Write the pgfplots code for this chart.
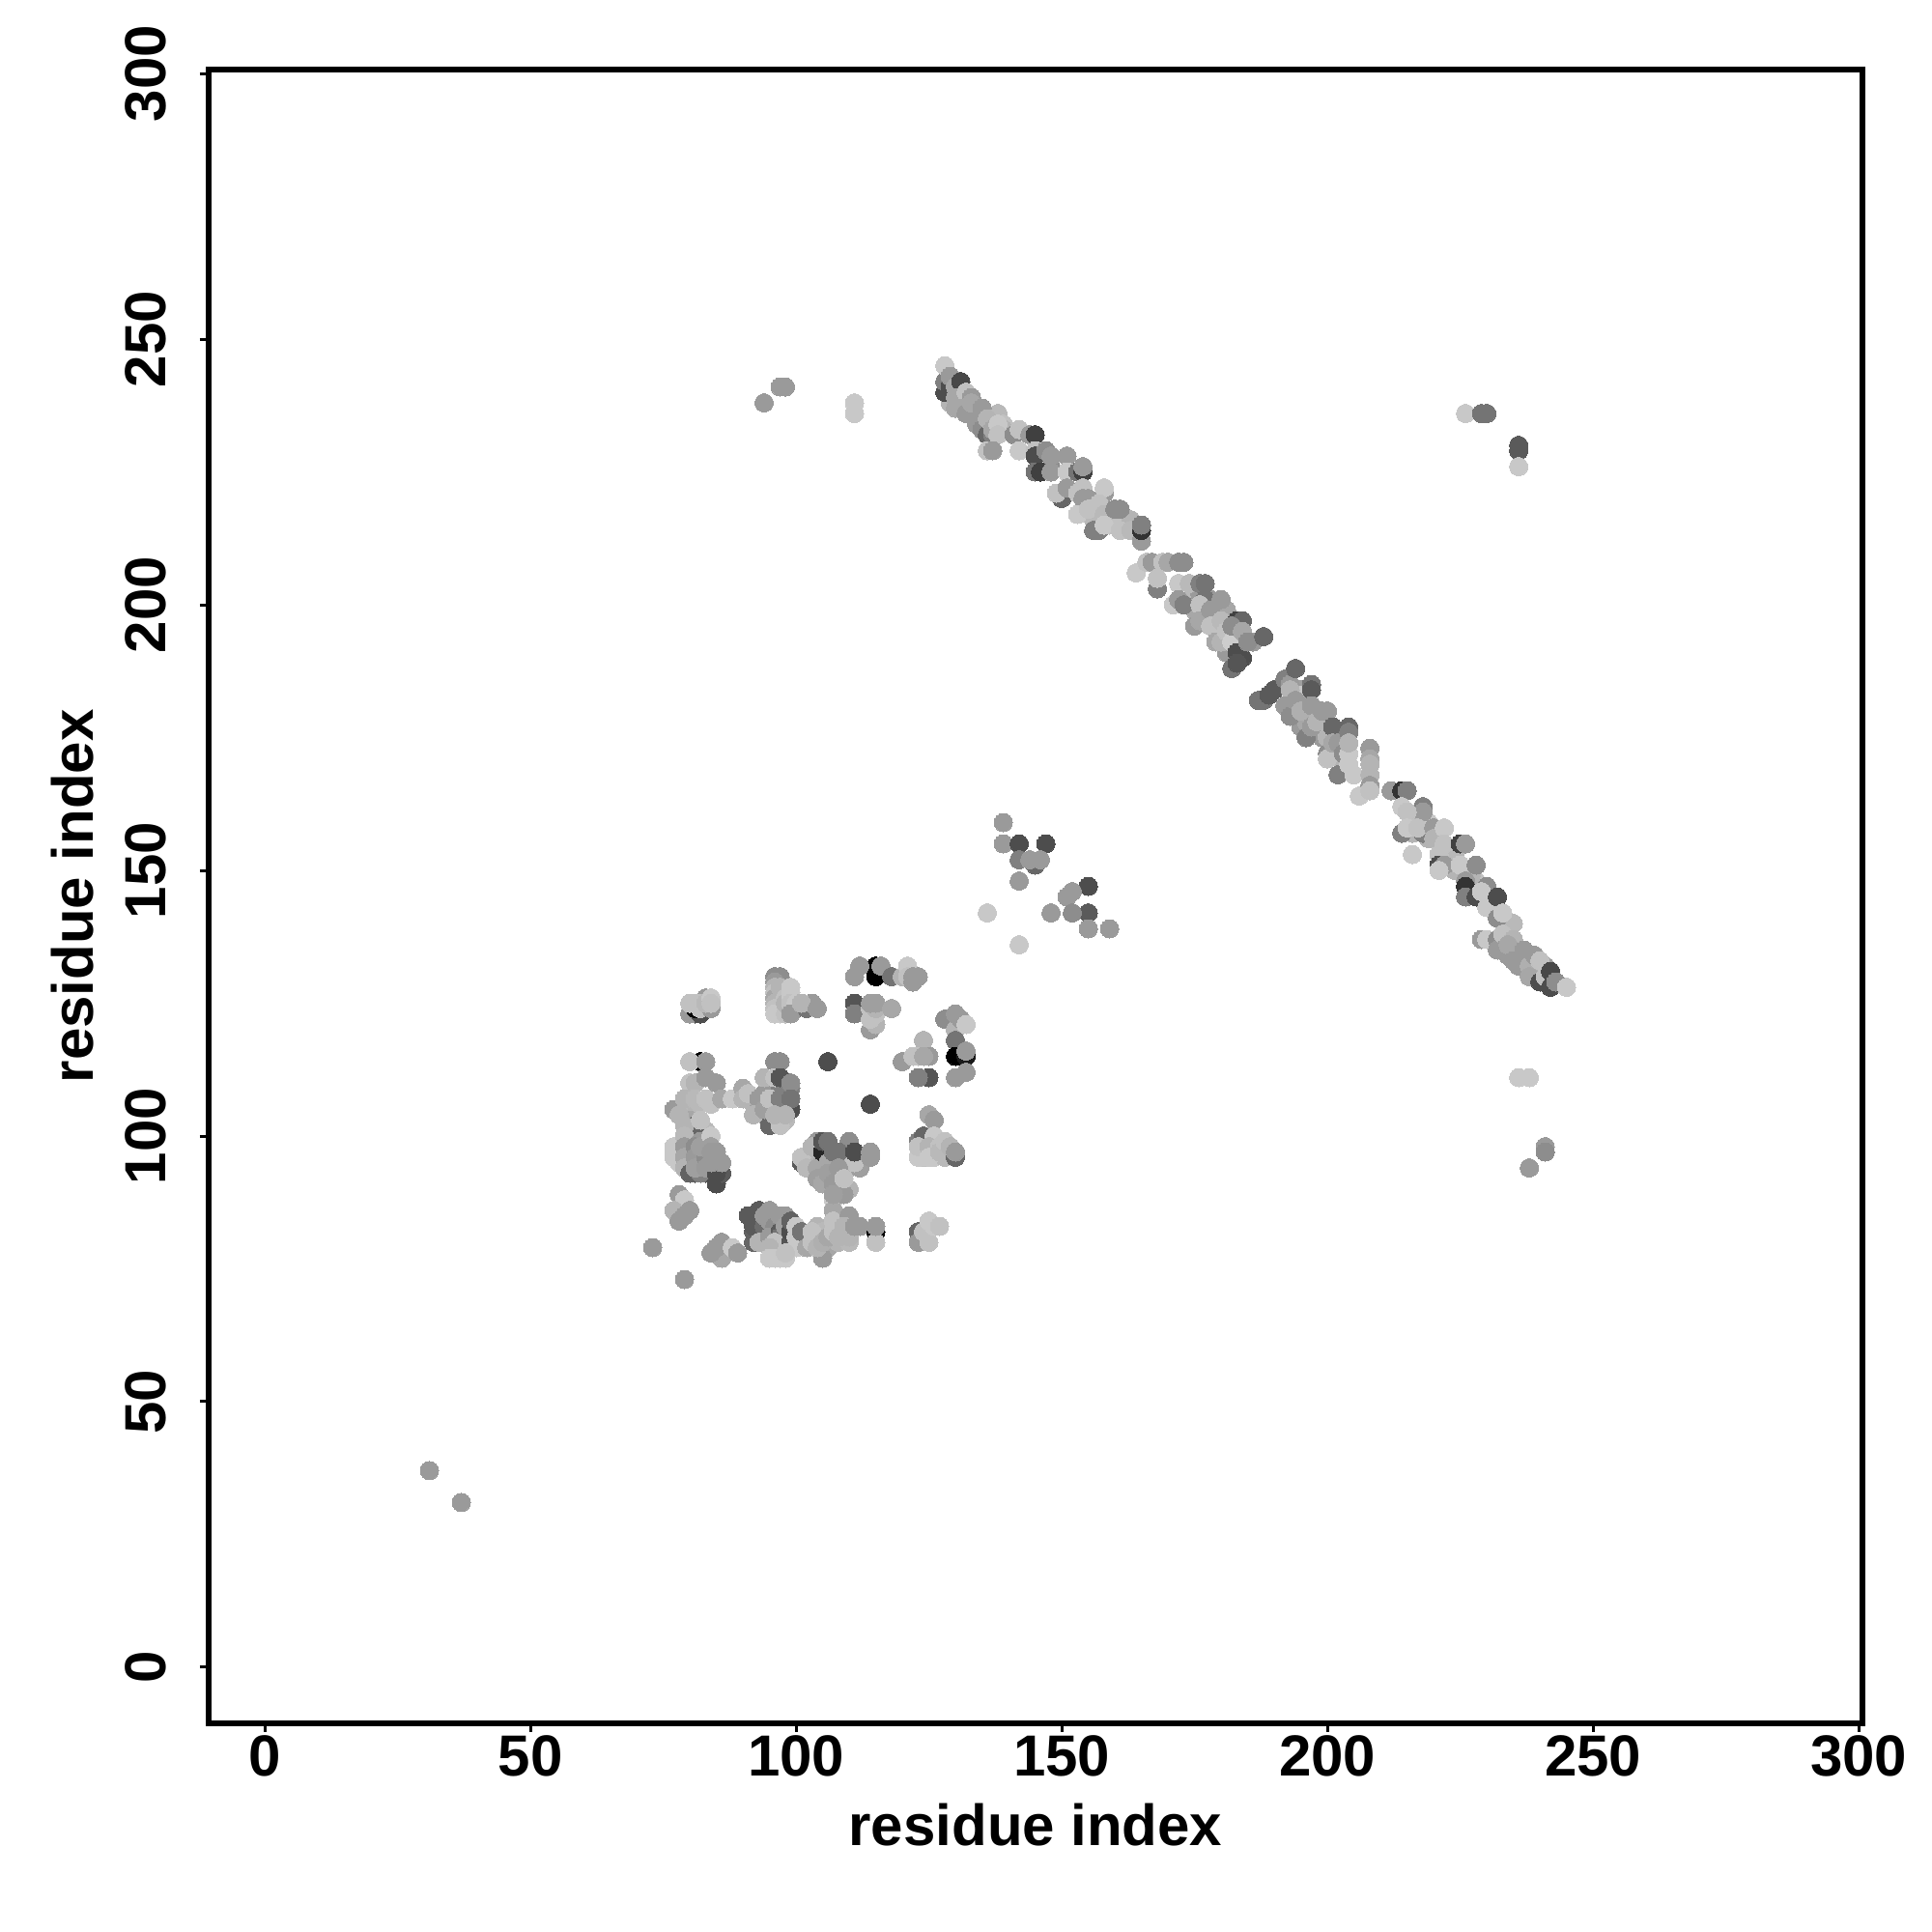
\documentclass[border=0pt]{standalone}
\usepackage{pgfplots}
\usepackage{fontspec}
\setmainfont{Liberation Sans}
\pgfplotsset{compat=1.18}
\begin{document}
\begin{tikzpicture}[x=1mm,y=1mm]
\path[use as bounding box] (0,0) rectangle (200,200);
\begin{axis}[
  at={(21.6mm,21.6mm)},anchor=south west,
  scale only axis,width=171.2mm,height=171.23mm,
  xmin=-10.55,xmax=300.7,ymin=-10.55,ymax=300.8,
  xtick={0,50,...,300},ytick={0,50,...,300},
  tick pos=left,tick align=outside,
  major tick length=0.9mm,
  every tick/.style={black,line width=0.3mm},
  axis line style={line width=0.6mm,black},
  /pgf/number format/assume math mode=true,
  tick label style={font=\fontsize{17.07pt}{20pt}\selectfont\bfseries,inner sep=0pt},
  xticklabel style={anchor=north,yshift=-0.3mm},
  yticklabel style={rotate=90,anchor=south,yshift=3.4mm},
  xlabel={residue index},ylabel={residue index},
  label style={font=\fontsize{17.07pt}{20pt}\selectfont\bfseries,inner sep=0pt},
  xlabel style={at={(axis description cs:0.5,0)},anchor=base,yshift=-12.7mm},
  ylabel style={at={(axis description cs:0,0.5)},anchor=base,rotate=0,yshift=11.9mm},
  colormap={gr}{gray(0cm)=(0); gray(1cm)=(1)},
  point meta min=0,point meta max=1,
  clip=false,
]
\addplot[scatter,only marks,mark=*,mark size=0.95mm,
  mark options={line width=0pt},
  scatter/use mapped color={draw=mapped color,fill=mapped color},
  point meta=explicit]
 table[x=x,y=y,meta=g,row sep=\\]{
x y g\\
92 106 .7\\ 93 105 .62\\ 94 104 .6\\ 94 106 .7\\ 95 105 .7\\ 95 103 .75\\ 96 103 .72\\ 97 105 .6\\ 98 106 .45\\ 98 103 .72\\ 96 108 .7\\ 94 108 .6\\ 97 109 .5\\ 99 109 .5\\ 98 108 .5\\
80 105 .72\\ 81 104 .7\\ 80 103 .65\\ 83 101 .72\\ 82 106 .72\\ 84 106 .75\\ 
103 96 .7\\ 104 97 .7\\ 105 95 .65\\ 104 99 .6\\ 107 93 .62\\ 109 95 .72\\ 110 94 .7\\ 108 92 .65\\ 109 90 .62\\ 110 90 .7\\
124 98 .75\\ 124 96 .75\\ 126 97 .75\\ 128 97 .72\\ 126 96 .78\\ 128 96 .72\\
101 80 .7\\ 102 81 .7\\ 104 81 .68\\ 104 83 .7\\ 105 82 .72\\ 106 79 .65\\ 108 80 .7\\ 108 83 .7\\ 110 83 .68\\ 110 80 .72\\ 112 83 .6\\
129 238 .7\\ 130 237 .65\\ 132 238 .62\\ 134 236 .62\\ 135 235 .62\\ 136 233 .6\\ 134 237 .65\\ 137 235 .75\\ 138 236 .72\\ 139 234 .75\\ 139 233 .7\\ 148 226 .55\\ 154 218 .75\\ 156 219 .7\\ 157 216 .75\\ 156 216 .72\\ 159 215 .75\\ 162 216 .75\\ 163 216 .7\\ 174 201 .72\\ 175 199 .65\\ 177 198 .7\\ 178 201 .6\\ 179 198 .72\\ 180 195 .72\\ 181 191 .6\\ 180 199 .7\\ 181 199 .65\\ 183 193 .7\\ 184 193 .72\\ 176 202 .6\\
195 184 .62\\ 194 181 .6\\ 195 183 .78\\ 196 181 .65\\ 193 181 .72\\ 194 179 .55\\ 195 177 .6\\ 196 178 .65\\ 198 176 .65\\ 199 175 .6\\ 199 177 .72\\ 200 175 .7\\ 201 172 .62\\ 203 175 .6\\ 203 170 .7\\
216 159 .72\\ 216 157 .7\\ 217 160 .7\\ 219 156 .7\\ 219 159 .78\\ 224 150 .7\\ 224 153 .72\\ 228 148 .75\\ 227 149 .7\\
234 139 .7\\ 235 140 .72\\ 236 135 .65\\ 237 133 .65\\ 239 131 .7\\ 241 132 .62\\ 234 134 .6\\
31 37 .6\\ 37 31 .6\\ 73 79 .6\\ 79 73 .6\\
81 123 .3\\ 80 123 .6\\ 82 123 .3\\ 81 124 0\\ 80 125 .75\\ 81 125 .75\\ 82 124 .75\\ 83 126 .6\\ 82 125 .75\\ 84 124 .6\\ 83 125 .72\\ 84 126 .78\\ 84 125 .75\\
96 130 .55\\ 97 130 .55\\ 96 129 .6\\ 96 128 .7\\ 96 127 .75\\ 97 127 .75\\ 96 126 .65\\ 96 125 .7\\ 96 124 .75\\ 96 123 .78\\ 97 123 .78\\ 98 123 .75\\ 97 128 .7\\ 98 126 .75\\ 98 125 .7\\ 100 124 .4\\ 99 128 .78\\ 99 127 .78\\ 99 126 .78\\ 99 125 .75\\ 100 125 .78\\ 99 123 .6\\ 102 124 .45\\ 103 125 .6\\ 101 125 .7\\ 104 124 .6\\
115 132 0\\ 115 130 0\\ 111 130 .6\\ 112 132 .6\\ 116 132 .6\\ 118 130 .45\\ 120 130 .7\\ 121 132 .78\\ 121 130 .75\\ 122 129 .6\\ 123 130 .6\\ 122 130 .6\\
111 125 .33\\ 111 123 .5\\ 114 120 .6\\ 115 121 .7\\ 114 122 .75\\ 115 123 .75\\ 114 124 .75\\ 115 124 .7\\ 114 125 .62\\ 115 125 .62\\ 118 124 .65\\
124 118 .7\\ 120 114 .6\\ 122 115 .75\\ 123 115 .75\\ 125 111 .33\\ 123 111 .5\\ 125 115 .6\\ 124 115 .65\\
128 122 .55\\ 130 120 .7\\ 130 123 .6\\ 131 122 .6\\ 130 118 .45\\ 132 121 .78\\ 130 115 0\\ 132 115 .1\\ 132 116 .6\\ 132 112 .6\\ 130 111 .6\\
82 114 0\\ 80 114 .75\\ 83 114 .6\\ 80 110 .75\\ 81 110 .7\\ 83 111 .6\\ 85 110 .6\\ 77 105 .6\\ 79 107 .7\\ 81 107 .72\\ 83 107 .75\\ 86 107 .65\\ 88 107 .78\\ 78 104 .7\\
81 102 .4\\ 79 102 .7\\ 82 103 .75\\ 77 98 .78\\ 77 97 .78\\ 77 96 .78\\ 78 95 .78\\ 80 99 .4\\ 81 97 .3\\ 80 97 .38\\ 81 95 .3\\ 80 95 .4\\ 81 93 .3\\ 79 100 .72\\ 79 98 .6\\ 79 96 .65\\ 79 94 .7\\ 80 93 .38\\ 82 99 .6\\ 82 97 .5\\ 83 95 .35\\ 82 95 .5\\ 83 93 .35\\ 82 93 .5\\ 81 98 .55\\ 81 96 .6\\ 81 94 .62\\ 83 96 .55\\ 83 94 .6\\ 82 98 .62\\ 84 100 .78\\ 85 91 .3\\ 86 93 .35\\ 85 93 .3\\ 84 95 .6\\ 84 98 .62\\ 84 97 .6\\ 85 97 .6\\ 86 95 .6\\
78 89 .6\\ 79 88 .78\\ 77 86 .7\\ 78 84 .6\\ 79 85 .6\\ 80 86 .6\\
86 77 .65\\ 84 78 .6\\ 86 80 .6\\ 85 79 .6\\ 88 79 .78\\ 89 78 .6\\
91 85 .35\\ 93 86 .35\\ 92 80 .4\\ 92 82 .38\\ 92 83 .35\\ 94 81 .38\\ 94 83 .42\\ 93 80 .7\\ 95 86 .6\\ 94 85 .6\\ 95 84 .6\\ 96 83 .55\\ 95 81 .6\\ 97 82 .35\\ 97 81 .45\\ 97 85 .6\\ 96 80 .75\\ 95 79 .7\\ 98 85 .6\\ 98 83 .62\\ 99 80 .33\\ 99 82 .3\\ 99 84 .38\\ 100 83 .78\\ 100 81 .78\\ 100 79 .78\\ 95 77 .78\\ 96 77 .78\\ 97 77 .78\\ 98 77 .78\\ 98 78 .75\\ 101 82 .45\\ 102 79 .65\\ 103 82 .75\\ 103 80 .75\\ 105 77 .6\\ 104 79 .7\\ 105 80 .68\\ 106 81 .65\\ 107 88 .78\\ 107 86 .65\\ 107 84 .75\\ 107 82 .75\\ 108 81 .7\\ 110 85 .6\\ 110 81 .7\\ 109 83 .7\\ 111 83 .6\\ 115 82 0\\ 115 80 .75\\ 115 83 .6\\
101 95 .35\\ 101 96 .75\\ 102 94 .72\\ 103 98 .7\\ 104 94 .65\\ 105 97 .15\\ 105 99 .33\\ 106 95 .65\\ 106 99 .45\\ 107 97 .45\\ 110 99 .55\\ 108 97 .45\\ 112 94 .62\\ 111 95 .75\\ 111 97 .3\\ 114 97 .6\\ 114 96 .6\\ 104 92 .62\\ 105 91 .65\\ 106 93 .62\\ 107 91 .6\\ 108 90 .6\\ 109 89 .6\\ 108 94 .6\\ 107 89 .62\\ 109 92 .75\\
125 104 .65\\ 126 103 .6\\ 123 99 .5\\ 124 100 .4\\ 123 96 .78\\ 123 98 .75\\ 126 100 .78\\ 125 98 .7\\ 125 96 .78\\ 127 98 .75\\ 127 97 .72\\ 128 99 .75\\ 129 98 .7\\ 130 96 .4\\ 130 97 .6\\
123 82 .4\\ 124 81 .2\\ 123 80 .6\\ 125 80 .75\\ 124 82 .75\\ 125 84 .78\\ 126 83 .78\\ 127 83 .75\\
96 114 .55\\ 97 114 .55\\ 94 111 .7\\ 96 111 .75\\ 97 111 .33\\ 99 110 .55\\ 90 109 .65\\ 90 107 .7\\ 91 108 .75\\ 96 106 .28\\ 99 105 .3\\ 95 102 .4\\ 93 107 .6\\ 92 104 .7\\ 94 105 .62\\ 95 107 .75\\ 97 107 .5\\ 99 107 .45\\ 97 102 .75\\ 96 104 .7\\ 98 104 .7\\
106 114 .3\\ 114 106 .3\\
94 238 .6\\ 97 241 .6\\ 98 241 .6\\ 111 238 .78\\ 111 236 .78\\ 226 236 .78\\ 229 236 .45\\ 230 236 .45\\ 236 230 .35\\ 236 229 .35\\ 236 226 .78\\
139 159 .6\\ 139 155 .6\\ 142 155 .3\\ 147 155 .3\\ 145 151 .4\\ 142 152 .5\\ 146 152 .6\\ 144 152 .6\\ 142 148 .6\\ 155 147 .3\\ 148 142 .6\\ 136 142 .78\\ 142 136 .78\\ 152 146 .6\\ 151 145 .6\\ 155 142 .35\\ 152 142 .55\\ 155 139 .6\\ 159 139 .6\\
236 111 .78\\ 238 111 .78\\ 241 98 .6\\ 241 97 .55\\ 238 94 .6\\
128 240 .3\\ 128 242 .5\\ 129 241 .3\\ 128 245 .78\\ 129 243 .6\\ 130 241 .65\\ 131 242 .28\\ 130 239 .65\\ 132 240 .75\\ 133 239 .6\\ 131 237 .65\\ 132 236 .6\\ 133 238 .65\\ 135 237 .6\\ 134 234 .6\\ 135 233 .55\\ 136 232 .4\\ 137 232 .5\\ 136 235 .7\\ 137 233 .65\\ 138 234 .78\\ 138 232 .75\\ 136 229 .75\\ 137 229 .6\\ 141 232 .55\\ 142 233 .75\\ 144 232 .6\\ 145 232 .25\\ 142 229 .78\\ 145 229 .75\\ 145 228 .3\\ 147 229 .55\\ 148 228 .6\\ 151 228 .6\\ 145 225 .45\\ 146 225 .25\\ 148 225 .6\\ 151 225 .78\\ 153 225 .45\\ 154 225 .25\\ 154 226 .6\\ 150 220 .4\\ 149 221 .75\\ 151 222 .6\\ 153 221 .75\\ 154 222 .75\\ 155 220 .6\\ 154 220 .6\\ 153 217 .78\\ 155 218 .75\\ 156 214 .5\\ 157 214 .5\\ 158 221 .6\\ 158 222 .78\\ 157 219 .75\\ 158 217 .72\\ 158 215 .78\\ 160 218 .55\\ 161 218 .55\\ 161 214 .75\\ 163 214 .72\\ 165 212 .6\\ 165 214 .2\\ 165 215 .5\\
164 206 .78\\ 166 208 .75\\ 167 208 .6\\ 169 208 .75\\ 170 208 .65\\ 172 208 .55\\ 173 208 .55\\ 168 203 .5\\ 168 205 .75\\ 172 204 .78\\ 174 204 .72\\ 176 204 .5\\ 177 204 .45\\ 171 200 .78\\ 172 201 .6\\ 173 200 .5\\ 177 201 .45\\ 176 200 .75\\ 180 201 .6\\ 175 196 .6\\ 176 197 .65\\ 178 199 .6\\ 178 196 .75\\ 180 197 .72\\ 179 193 .65\\ 180 193 .7\\ 181 195 .75\\ 182 193 .8\\ 183 197 .25\\ 184 197 .4\\ 182 196 .55\\ 184 195 .65\\ 183 191 .3\\ 184 190 .3\\ 186 193 .6\\ 185 193 .55\\ 188 194 .4\\ 182 188 .45\\ 183 189 .33\\
187 182 .45\\ 188 182 .45\\ 189 183 .35\\ 190 184 .35\\ 192 186 .5\\ 193 185 .6\\ 193 184 .7\\ 194 188 .4\\ 192 181 .6\\ 193 179 .55\\ 194 182 .6\\ 195 180 .68\\ 197 185 .45\\ 197 184 .35\\ 197 181 .6\\ 196 175 .5\\ 197 177 .6\\ 198 178 .7\\ 199 180 .6\\ 200 180 .6\\ 200 172 .55\\ 200 171 .75\\ 201 177 .4\\ 201 174 .65\\ 202 174 .6\\ 204 177 .4\\ 204 176 .5\\ 203 172 .55\\ 204 172 .78\\ 204 174 .7\\ 202 168 .5\\ 204 170 .78\\ 205 168 .78\\ 206 164 .78\\ 208 173 .6\\ 208 171 .65\\ 208 170 .7\\ 208 168 .7\\ 208 166 .6\\ 208 165 .75\\
212 165 .6\\ 214 165 .2\\ 215 165 .5\\ 214 162 .78\\ 218 162 .5\\ 218 161 .6\\ 215 161 .75\\ 214 157 .5\\ 215 158 .78\\ 218 157 .5\\ 217 158 .75\\ 220 158 .6\\ 220 156 .7\\ 222 158 .78\\ 216 153 .78\\ 222 155 .75\\ 221 153 .75\\ 225 155 .25\\ 226 155 .6\\ 221 151 .3\\ 222 151 .6\\ 221 150 .78\\ 225 151 .78\\ 228 151 .55\\ 226 148 .6\\ 226 147 .2\\ 226 145 .5\\ 230 147 .55\\ 228 145 .3\\ 229 146 .78\\ 230 143 .78\\ 232 145 .3\\ 232 141 .55\\ 233 142 .78\\ 229 137 .6\\ 230 137 .78\\ 232 137 .55\\ 232 135 .6\\ 233 138 .75\\ 235 137 .7\\ 233 135 .6\\ 234 136 .65\\ 235 133 .6\\ 237 135 .6\\ 236 132 .6\\ 238 132 .68\\ 239 134 .6\\ 240 133 .75\\ 238 130 .65\\ 240 129 .3\\ 241 130 .75\\ 242 131 .28\\ 242 128 .3\\ 243 129 .55\\ 245 128 .78\\
};
\end{axis}
\end{tikzpicture}
\end{document}
